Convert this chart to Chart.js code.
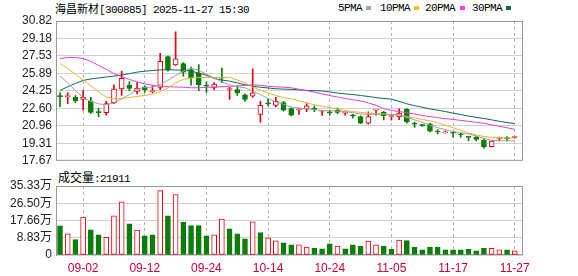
<!DOCTYPE html>
<html><head><meta charset="utf-8">
<script src="https://cdn.jsdelivr.net/npm/chart.js@4.4.1/dist/chart.umd.min.js"></script>
<style>
html,body{margin:0;padding:0;background:#fff}
body{width:578px;height:276px;overflow:hidden;position:relative}
canvas{position:absolute;left:0}
#c1{top:0}
#c2{top:170px}
.t{position:absolute;white-space:nowrap;color:#000;line-height:14px}
.cjk{font-family:'Noto Sans CJK SC',sans-serif;font-size:11px}
.mono{font-family:'Liberation Mono',monospace;font-size:11px;letter-spacing:-0.6px}
.mk{position:absolute;width:5px;height:4px}
</style></head><body>
<div class="t" style="left:55px;top:1px"><span class="cjk">海昌新材</span><span class="mono">[300885] 2025-11-27 15:30</span></div>
<div class="t mono" style="left:338px;top:1px">5PMA</div><div class="mk" style="left:366px;top:6px;background:#a8a8a8"></div>
<div class="t mono" style="left:380px;top:1px">10PMA</div><div class="mk" style="left:414px;top:6px;background:#f0c020"></div>
<div class="t mono" style="left:425px;top:1px">20PMA</div><div class="mk" style="left:460px;top:6px;background:#f040f0"></div>
<div class="t mono" style="left:472px;top:1px">30PMA</div><div class="mk" style="left:506px;top:6px;background:#006a4e"></div>
<div class="t" style="left:58px;top:170px"><span class="cjk" style="font-size:12px">成交量</span><span class="mono">:21911</span></div>
<canvas id="c1" width="578" height="172"></canvas>
<canvas id="c2" width="578" height="106"></canvas>
<script>
// ---- data ----
const dates = ['08-28','08-29','09-01','09-02','09-03','09-04','09-05','09-08','09-09','09-10',
 '09-11','09-12','09-15','09-16','09-17','09-18','09-19','09-22','09-23','09-24',
 '09-25','09-26','09-29','09-30','10-09','10-10','10-13','10-14','10-15','10-16',
 '10-17','10-20','10-21','10-22','10-23','10-24','10-27','10-28','10-29','10-30',
 '10-31','11-03','11-04','11-05','11-06','11-07','11-10','11-11','11-12','11-13',
 '11-14','11-17','11-18','11-19','11-20','11-21','11-24','11-25','11-26','11-27'];
const open  = [23.76,23.70,23.65,23.44,23.26,22.30,22.19,23.14,24.42,24.79,
 24.20,24.63,24.18,24.57,27.47,26.70,26.81,26.26,25.89,24.76,
 24.57,25.50,24.38,24.36,23.87,23.74,22.04,23.06,22.89,23.14,
 22.59,22.45,22.53,22.55,22.35,22.28,22.43,22.14,21.93,21.82,
 21.21,22.43,22.22,21.83,21.79,22.50,21.15,21.08,21.15,20.40,
 20.30,20.30,20.15,19.91,19.90,19.59,19.01,19.78,19.80,19.86];
const high  = [24.08,24.06,23.81,24.27,23.65,22.64,23.26,24.82,26.10,25.12,
 25.03,24.72,24.72,27.78,27.53,29.79,26.92,26.49,26.71,25.09,
 25.03,26.40,24.57,24.72,23.96,26.31,23.26,23.51,23.65,23.26,
 22.65,22.64,23.05,22.83,22.40,22.45,22.64,22.20,22.04,21.90,
 22.28,22.50,22.33,22.00,22.55,22.58,21.31,21.10,21.20,20.60,
 20.50,20.32,20.25,19.92,19.95,19.77,19.55,19.90,19.95,19.95];
const low   = [22.76,23.05,23.14,22.43,22.13,21.82,21.97,23.05,23.81,24.27,
 23.96,24.11,24.06,24.36,26.10,26.65,25.64,24.79,24.27,24.11,
 24.36,25.03,23.44,23.81,23.26,23.65,21.31,22.83,22.74,22.34,
 21.90,22.04,22.28,22.28,21.93,21.97,22.10,21.97,21.67,21.16,
 21.12,21.97,21.52,21.50,21.54,21.22,20.82,20.90,20.38,20.20,
 20.28,19.90,19.90,19.55,19.55,18.86,18.98,19.55,19.55,19.80];
const close = [23.70,23.75,23.32,23.65,22.22,22.20,23.05,24.42,25.43,24.48,
 24.51,24.36,24.18,27.02,26.19,27.25,26.01,25.49,24.82,24.70,
 24.88,25.45,24.38,24.06,23.44,24.06,22.89,23.02,23.26,22.43,
 21.97,22.45,22.83,22.50,22.35,22.18,22.22,22.14,21.90,21.21,
 21.82,22.43,21.91,21.83,22.16,21.32,21.12,20.98,20.46,20.38,
 20.30,20.27,20.12,19.88,19.68,19.01,19.53,19.78,19.75,19.90];
const prevClose = 23.80;
const volume = [14.96,10.8,7.9,19.4,12.9,10.3,9.1,20.1,27.2,16.0,
 12.7,9.8,10.3,33.0,20.1,31.0,16.7,15.0,15.0,9.8,
 10.3,18.4,13.4,10.8,8.3,17.0,11.5,8.8,7.2,6.2,
 5.2,5.2,4.0,3.6,3.1,5.7,4.6,3.1,5.2,4.6,
 7.1,5.2,4.6,2.9,7.7,7.4,4.0,2.6,4.0,4.0,
 2.6,2.6,2.6,2.9,2.1,3.4,3.4,2.6,2.6,2.19];
const ma5  = [25.64,25.00,24.27,23.62,23.26,23.03,22.94,23.12,23.49,23.90,
 24.36,24.59,24.59,24.86,25.23,25.69,26.10,26.37,26.19,25.82,
 25.46,25.09,24.82,24.63,24.54,24.22,23.90,23.53,23.21,22.98,
 22.75,22.62,22.57,22.48,22.39,22.39,22.34,22.30,22.20,22.07,
 22.02,22.07,22.02,22.02,21.98,21.75,21.52,21.29,21.01,20.78,
 20.60,20.42,20.33,20.19,20.00,19.78,19.59,19.55,19.55,19.55];
const ma10 = [26.83,26.33,25.82,25.27,24.72,24.17,23.67,23.49,23.53,23.62,
 23.72,23.81,23.95,24.17,24.54,25.00,25.32,25.46,25.50,25.50,
 25.50,25.50,25.52,25.27,25.00,24.63,24.31,24.04,23.81,23.62,
 23.49,23.30,23.12,22.94,22.80,22.66,22.53,22.41,22.30,22.22,
 22.16,22.11,22.07,22.02,21.98,21.84,21.70,21.56,21.43,21.24,
 21.01,20.78,20.55,20.28,20.10,19.96,19.87,19.82,19.80,19.80];
const ma20 = [27.29,27.38,27.38,27.29,27.02,26.65,26.28,25.87,25.60,25.32,
 25.09,24.91,24.77,24.70,24.65,24.61,24.59,24.54,24.54,24.57,
 24.61,24.63,24.68,24.72,24.77,24.82,24.77,24.68,24.63,24.59,
 24.54,24.40,24.27,24.13,23.96,23.81,23.67,23.53,23.41,23.30,
 23.12,22.89,22.57,22.41,22.30,22.20,22.07,21.93,21.82,21.73,
 21.64,21.56,21.47,21.38,21.29,21.20,21.06,20.92,20.78,20.63];
const ma30 = [24.29,24.63,24.95,25.23,25.37,25.46,25.55,25.64,25.73,25.87,
 26.01,26.10,26.16,26.22,26.24,26.22,26.19,26.10,25.92,25.73,
 25.41,25.27,25.16,25.00,24.82,24.68,24.59,24.52,24.45,24.41,
 24.39,24.34,24.29,24.27,24.24,24.15,24.04,23.96,23.90,23.81,
 23.72,23.62,23.53,23.47,23.26,23.03,22.85,22.71,22.55,22.43,
 22.30,22.16,22.02,21.88,21.76,21.65,21.52,21.38,21.27,21.18];
const priceTicks = [17.67,19.31,20.96,22.60,24.25,25.89,27.53,29.18,30.82];
const volTicks = [0,8.83,17.66,26.50,35.33];
const volTickLabels = ['0','8.83万','17.66万','26.50万','35.33万'];
const xTickLabels = ['09-02','09-12','09-24','10-14','10-24','11-05','11-17','11-27'];

// ---- styling ----
const UP = '#e60012', DOWN = '#0a7d0a';
const TICKFONT = {family:"'Liberation Sans','Noto Sans CJK SC',sans-serif", size:12};
const isUp = i => close[i] >= open[i];
const volUp = i => close[i] >= (i ? close[i-1] : prevClose);

const frame = {id:'frame', beforeDatasetsDraw(c){
  const a = c.chartArea, ctx = c.ctx;
  ctx.save(); ctx.strokeStyle = '#9a9a9a'; ctx.lineWidth = 1;
  ctx.strokeRect(a.left + 0.5, a.top + 0.5, a.right - a.left - 1, a.bottom - a.top - 1);
  ctx.restore();
}};

function xScale(showLabels){
  return {
    type:'linear', min:-0.52, max:60.07, offset:false,
    afterBuildTicks: s => { s.ticks = xTickLabels.map(l => ({value: dates.indexOf(l)})); },
    ticks:{display:showLabels, autoSkip:false, maxRotation:0, padding:6, color:'#cc0033',
      font:TICKFONT, callback: v => dates[v]},
    grid:{color:'#b4b4b4', drawTicks:false, offset:false},
    border:{display:false, dash:[3,3]},
    afterFit: s => { s.height = showLabels ? 21 : 0; }
  };
}
function yScale(min, max, ticks, fmt){
  return {
    type:'linear', position:'left', min, max,
    afterBuildTicks: s => { s.ticks = ticks.map(v => ({value:v})); },
    ticks:{padding:4, autoSkip:false, color:'#222', font:TICKFONT, callback: fmt},
    grid:{color:'#d2d2d2', drawTicks:false},
    border:{color:'#9a9a9a'},
    afterFit: s => { s.width = 56; }
  };
}
const line = (lbl, arr, col) => ({type:'line', label:lbl, data: arr.map((v,i)=>({x:i,y:v})),
  borderColor:col, borderWidth:1, pointRadius:0, tension:0, order:0});

new Chart(document.getElementById('c1'), {
  type:'bar',
  data:{datasets:[
    line('5PMA', ma5, '#a0a0a0'),
    line('10PMA', ma10, '#e8b430'),
    line('20PMA', ma20, '#e83ce8'),
    line('30PMA', ma30, '#0b6b52'),
    {type:'bar', label:'body', data: open.map((o,i)=>({x:i, y:[o, close[i]]})),
      backgroundColor: open.map((o,i)=> isUp(i) ? '#ffffff' : DOWN),
      borderColor: open.map((o,i)=> isUp(i) ? UP : DOWN),
      borderWidth:1, borderSkipped:false, barThickness:5, minBarLength:1, grouped:false, order:1},
    {type:'bar', label:'wick', data: low.map((l,i)=>({x:i, y:[l, high[i]]})),
      backgroundColor: low.map((l,i)=> isUp(i) ? UP : DOWN),
      borderWidth:0, barThickness:1, grouped:false, order:2}
  ]},
  options:{
    responsive:false, animation:false, devicePixelRatio:1, events:[],
    layout:{padding:{left:0, right:55, top:21, bottom:7}},
    plugins:{legend:{display:false}, tooltip:{enabled:false}},
    scales:{ x: xScale(false), y: yScale(priceTicks[0], priceTicks[priceTicks.length-1], priceTicks, v => v.toFixed(2)) }
  },
  plugins:[frame]
});

new Chart(document.getElementById('c2'), {
  type:'bar',
  data:{datasets:[
    {type:'bar', label:'成交量', data: volume.map((v,i)=>({x:i, y:v})),
      backgroundColor: volume.map((v,i)=> volUp(i) ? '#ffffff' : DOWN),
      borderColor: volume.map((v,i)=> volUp(i) ? UP : DOWN),
      borderWidth:1, borderSkipped:false, barThickness:5, grouped:false}
  ]},
  options:{
    responsive:false, animation:false, devicePixelRatio:1, events:[],
    layout:{padding:{left:0, right:55, top:16, bottom:0}},
    plugins:{legend:{display:false}, tooltip:{enabled:false}},
    scales:{ x: xScale(true), y: yScale(0, volTicks[volTicks.length-1], volTicks, v => volTickLabels[volTicks.indexOf(v)]) }
  },
  plugins:[frame]
});
</script>
</body></html>
